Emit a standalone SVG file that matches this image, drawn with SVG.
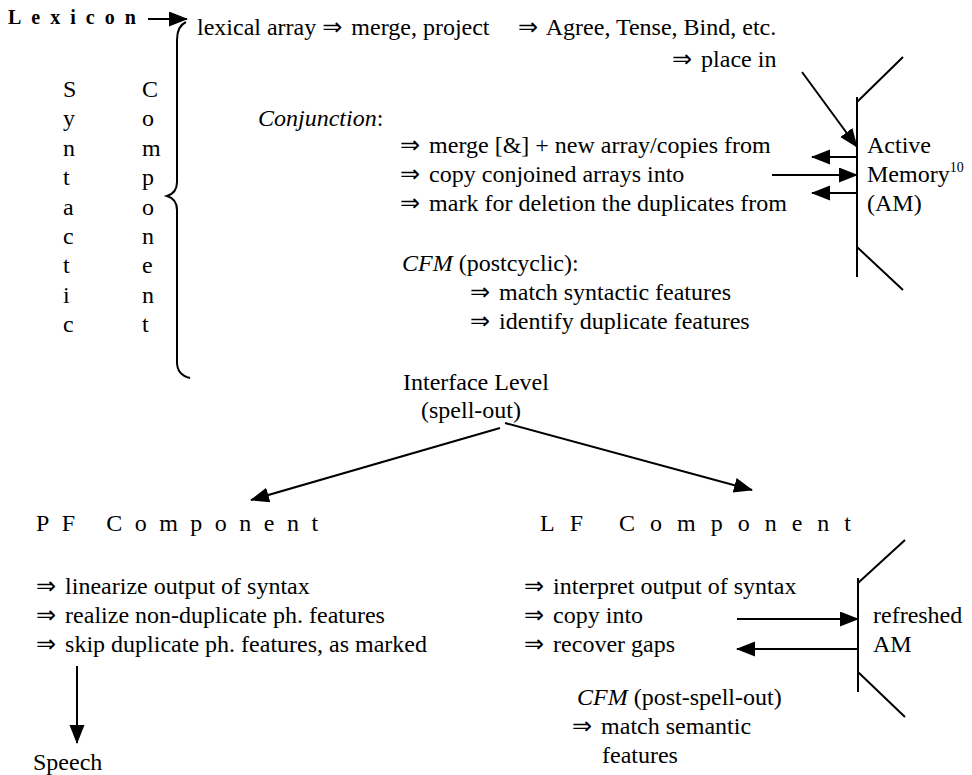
<svg xmlns="http://www.w3.org/2000/svg" width="972" height="775" viewBox="0 0 972 775">
<style>
text{font-family:"Liberation Serif","Times New Roman","DejaVu Serif",serif;font-size:24px;fill:#000}
.b{font-weight:bold;font-size:20px;letter-spacing:10px}
.sp{letter-spacing:12.5px}
.sp2{letter-spacing:15px}
.i{font-style:italic}
.r{font-family:"DejaVu Sans",sans-serif;font-size:24px}
.ln{stroke:#000;stroke-width:2;fill:none}
.ar{stroke:#000;stroke-width:2;fill:none;marker-end:url(#ah)}
</style>
<defs>
<marker id="ah" markerUnits="userSpaceOnUse" markerWidth="20" markerHeight="16" refX="18" refY="7.5" orient="auto">
<path d="M0,0 L19,7.5 L0,15 z" fill="#000"/>
</marker>
</defs>
<rect width="972" height="775" fill="#fff"/>

<g id="lexicon"><text class="b" x="8" y="24">Lexicon</text></g>

<g id="syntactic-component">
<text x="63" y="97">S</text><text x="63" y="126">y</text><text x="63" y="156">n</text><text x="63" y="185">t</text><text x="63" y="215">a</text><text x="63" y="244">c</text><text x="63" y="273">t</text><text x="63" y="303">i</text><text x="63" y="332">c</text>
<text x="142" y="97">C</text><text x="142" y="126">o</text><text x="142" y="156">m</text><text x="142" y="185">p</text><text x="142" y="215">o</text><text x="142" y="244">n</text><text x="142" y="273">e</text><text x="142" y="303">n</text><text x="142" y="332">t</text>
</g>

<g id="syntax-steps">
<text x="197" y="35">lexical array <tspan class="r">⇒</tspan><tspan dx="3"> merge, project</tspan></text>
<text x="518" y="35"><tspan class="r">⇒</tspan><tspan dx="3"> Agree, Tense, Bind, etc.</tspan></text>
<text x="672" y="67"><tspan class="r">⇒</tspan><tspan dx="3"> place in</tspan></text>
<text x="258" y="126"><tspan class="i">Conjunction</tspan>:</text>
<text x="400" y="153"><tspan class="r">⇒</tspan><tspan dx="3"> merge [&amp;] + new array/copies from</tspan></text>
<text x="400" y="182"><tspan class="r">⇒</tspan><tspan dx="3"> copy conjoined arrays into</tspan></text>
<text x="400" y="211"><tspan class="r">⇒</tspan><tspan dx="3"> mark for deletion the duplicates from</tspan></text>
<text x="402" y="271"><tspan class="i">CFM</tspan> (postcyclic):</text>
<text x="470" y="300"><tspan class="r">⇒</tspan><tspan dx="3"> match syntactic features</tspan></text>
<text x="470" y="329"><tspan class="r">⇒</tspan><tspan dx="3"> identify duplicate features</tspan></text>
</g>

<g id="active-memory">
<path class="ln" d="M857,97 V277 M857,102 L903,57 M857,247 L903,290"/>
<text x="867" y="153">Active</text>
<text x="867" y="182">Memory<tspan font-size="14" dy="-10">10</tspan></text>
<text x="867" y="211">(AM)</text>
</g>

<g id="interface-level">
<text x="403" y="390">Interface Level</text>
<text x="421" y="418">(spell-out)</text>
</g>

<g id="pf-component">
<text class="sp" x="36" y="531" xml:space="preserve">PF Component</text>
<text x="36" y="594"><tspan class="r">⇒</tspan><tspan dx="3"> linearize output of syntax</tspan></text>
<text x="36" y="623"><tspan class="r">⇒</tspan><tspan dx="3"> realize non-duplicate ph. features</tspan></text>
<text x="36" y="652"><tspan class="r">⇒</tspan><tspan dx="3"> skip duplicate ph. features, as marked</tspan></text>
</g>

<g id="speech"><text x="33" y="770">Speech</text></g>

<g id="lf-component">
<text class="sp2" x="540" y="531" xml:space="preserve">LF Component</text>
<text x="524" y="594"><tspan class="r">⇒</tspan><tspan dx="3"> interpret output of syntax</tspan></text>
<text x="524" y="623"><tspan class="r">⇒</tspan><tspan dx="3"> copy into</tspan></text>
<text x="524" y="652"><tspan class="r">⇒</tspan><tspan dx="3"> recover gaps</tspan></text>
<text x="577" y="705"><tspan class="i">CFM</tspan> (post-spell-out)</text>
<text x="572" y="734"><tspan class="r">⇒</tspan><tspan dx="3"> match semantic</tspan></text>
<text x="602" y="763">features</text>
</g>

<g id="refreshed-am">
<path class="ln" d="M858,578 V692 M858,583 L905,540 M858,672 L905,717"/>
<text x="873" y="623">refreshed</text>
<text x="873" y="652">AM</text>
</g>

<g id="connectors">
<path class="ar" d="M148,19 H187"/>
<path class="ln" d="M186,22 Q177,26 177,40 V182 Q177,193 167,196 Q177,199 177,210 V362 Q177,375 190,378"/>
<path class="ar" d="M802,72 L857,147"/>
<path class="ar" d="M857,157 H812"/>
<path class="ar" d="M772,175 H857"/>
<path class="ar" d="M857,193 H812"/>
<path class="ar" d="M500,428 L251,500"/>
<path class="ar" d="M505,423 L752,490"/>
<path class="ar" d="M77,666 V743"/>
<path class="ar" d="M737,619 H858"/>
<path class="ar" d="M858,649 H737"/>
</g>
</svg>
